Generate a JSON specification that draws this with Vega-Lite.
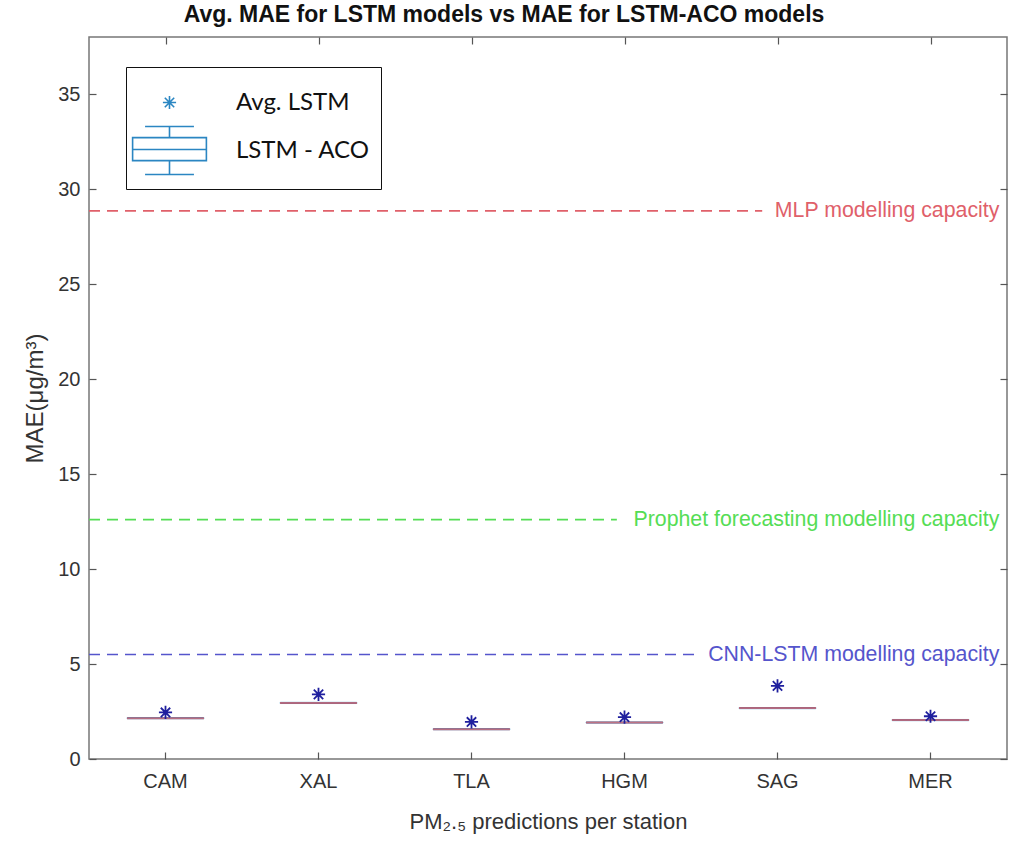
{
  "$schema": "https://vega.github.io/schema/vega-lite/v6.json",
  "width": 918,
  "height": 722,
  "autosize": {"type": "none"},
  "padding": {"left": 89, "top": 37, "right": 6, "bottom": 87},
  "background": "white",
  "title": {
    "text": "Avg. MAE for LSTM models vs MAE for LSTM-ACO models",
    "font": "Liberation Sans",
    "fontSize": 23,
    "fontWeight": "bold",
    "color": "#111111",
    "anchor": "middle",
    "dx": -44,
    "offset": 9
  },
  "config": {
    "view": {"stroke": "#777777", "strokeWidth": 1.5},
    "axis": {
      "labelFont": "Liberation Sans",
      "labelFontSize": 20,
      "labelColor": "#333333",
      "titleFont": "Liberation Sans",
      "titleFontSize": 22,
      "titleFontWeight": "normal",
      "titleColor": "#333333",
      "domainColor": "#777777",
      "domainWidth": 1.5,
      "tickColor": "#555555",
      "tickWidth": 1.2,
      "grid": false
    }
  },
  "datasets": {
    "stations": [
      {"station": "CAM", "q1": 2.12, "median": 2.15, "q3": 2.18, "avg": 2.45, "series": "Avg. LSTM"},
      {"station": "XAL", "q1": 2.92, "median": 2.95, "q3": 2.98, "avg": 3.4, "series": "Avg. LSTM"},
      {"station": "TLA", "q1": 1.54, "median": 1.57, "q3": 1.6, "avg": 1.95, "series": "Avg. LSTM"},
      {"station": "HGM", "q1": 1.89, "median": 1.92, "q3": 1.95, "avg": 2.2, "series": "Avg. LSTM"},
      {"station": "SAG", "q1": 2.65, "median": 2.68, "q3": 2.71, "avg": 3.85, "series": "Avg. LSTM"},
      {"station": "MER", "q1": 2.02, "median": 2.05, "q3": 2.08, "avg": 2.25, "series": "Avg. LSTM"}
    ],
    "refs": [
      {"model": "MLP", "v": 28.85, "x0": 0.5, "x1": 4.9, "xt": 6.45, "label": "MLP modelling capacity"},
      {"model": "Prophet", "v": 12.6, "x0": 0.5, "x1": 3.95, "xt": 6.45, "label": "Prophet forecasting modelling capacity"},
      {"model": "CNN-LSTM", "v": 5.5, "x0": 0.5, "x1": 4.48, "xt": 6.45, "label": "CNN-LSTM modelling capacity"}
    ]
  },
  "layer": [
    {
      "data": {"name": "refs"},
      "encoding": {
        "y": {
          "field": "v",
          "type": "quantitative",
          "scale": {"domain": [0, 38], "nice": false, "zero": false},
          "axis": {"orient": "right", "values": [0, 5, 10, 15, 20, 25, 30, 35], "labels": false, "tickSize": -7, "domain": false, "title": null}
        },
        "color": {
          "field": "model",
          "type": "nominal",
          "scale": {"domain": ["MLP", "Prophet", "CNN-LSTM"], "range": ["#e0606a", "#55dd55", "#5555cc"]},
          "legend": null
        }
      },
      "layer": [
        {
          "mark": {"type": "rule", "strokeDash": [11, 7], "strokeWidth": 1.6},
          "encoding": {
            "x": {
              "field": "x0",
              "type": "quantitative",
              "scale": {"domain": [0.5, 6.5], "nice": false, "zero": false},
              "axis": {"orient": "top", "values": [1, 2, 3, 4, 5, 6], "labels": false, "tickSize": -7, "domain": false, "title": null}
            },
            "x2": {"field": "x1"}
          }
        },
        {
          "mark": {"type": "text", "align": "right", "baseline": "middle", "font": "Liberation Sans", "fontSize": 21.3},
          "encoding": {
            "x": {"field": "xt", "type": "quantitative"},
            "text": {"field": "label"},
            "color": {
              "field": "model",
              "type": "nominal",
              "scale": {"domain": ["MLP", "Prophet", "CNN-LSTM"], "range": ["#d03a48", "#44cc44", "#2a2a8a"]},
              "legend": null
            }
          }
        }
      ]
    },
    {
      "data": {"name": "stations"},
      "encoding": {
        "x": {
          "field": "station",
          "type": "nominal",
          "sort": null,
          "scale": {"paddingInner": 0, "paddingOuter": 0},
          "axis": {"labelAngle": 0, "tickSize": -7, "bandPosition": 0.5, "labelPadding": 19, "title": "PM₂.₅ predictions per station", "titlePadding": 20, "domain": false}
        }
      },
      "layer": [
        {
          "mark": {"type": "bar", "filled": false, "stroke": "#2b8cc4", "strokeWidth": 1, "width": {"band": 0.5}},
          "encoding": {
            "y": {
              "field": "q1",
              "type": "quantitative",
              "scale": {"domain": [0, 38], "nice": false, "zero": false},
              "axis": {"values": [0, 5, 10, 15, 20, 25, 30, 35], "tickSize": -7, "labelPadding": 16, "title": "MAE(μg/m³)", "titleFontSize": 24, "titlePadding": 10, "domain": false}
            },
            "y2": {"field": "q3"}
          }
        },
        {
          "mark": {"type": "tick", "color": "#e05560", "thickness": 2, "size": 77},
          "encoding": {"y": {"field": "median", "type": "quantitative"}}
        },
        {
          "mark": {"type": "point", "filled": false, "strokeWidth": 1.8, "size": 2209, "opacity": 1},
          "encoding": {
            "y": {"field": "avg", "type": "quantitative"},
            "shape": {
              "field": "series",
              "type": "nominal",
              "scale": {
                "domain": ["Avg. LSTM", "LSTM - ACO"],
                "range": [
                  "M-0.28,0L0.28,0M0,-0.28L0,0.28M-0.2,-0.2L0.2,0.2M-0.2,0.2L0.2,-0.2",
                  "M-1.57,-0.55L1.57,-0.55L1.57,0.43L-1.57,0.43ZM-1.04,-1.02L1.04,-1.02M-1.04,1.02L1.04,1.02M0,-1.02L0,-0.55M0,0.43L0,1.02M-1.57,-0.04L1.57,-0.04"
                ]
              },
              "legend": {
                "title": null,
                "orient": "none",
                "legendX": 37,
                "legendY": 30,
                "padding": 11,
                "rowPadding": 8,
                "strokeColor": "#111111",
                "fillColor": "white",
                "symbolOffset": 8,
                "labelOffset": 42,
                "labelFont": "Lato",
                "labelFontSize": 24,
                "labelColor": "#111111",
                "symbolStrokeWidth": 1.6,
                "symbolStrokeColor": "#2b86c2",
                "symbolFillColor": "transparent",
                "symbolSize": 2209
              }
            },
            "color": {
              "field": "series",
              "type": "nominal",
              "scale": {"domain": ["Avg. LSTM", "LSTM - ACO"], "range": ["#1f1f9e", "#2b8cc4"]},
              "legend": null
            }
          }
        }
      ]
    }
  ],
  "resolve": {"scale": {"x": "independent", "y": "independent", "color": "independent"}}
}
